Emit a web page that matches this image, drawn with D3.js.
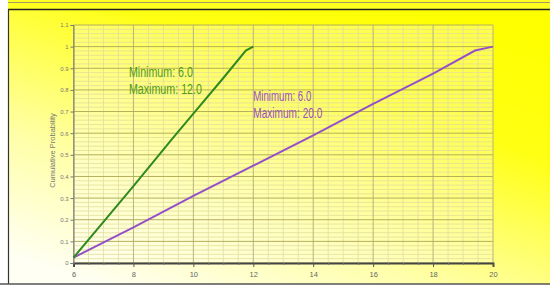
<!DOCTYPE html>
<html>
<head>
<meta charset="utf-8">
<script src="https://cdn.jsdelivr.net/npm/d3@7"></script>
<style>
  body { margin: 0; background: #fff; }
  svg { display: block; }
</style>
</head>
<body>
<div id="chart"></div>
<script>
// data
const xTicks = [6, 8, 10, 12, 14, 16, 18, 20];
const yTicks = [0, 0.1, 0.2, 0.3, 0.4, 0.5, 0.6, 0.7, 0.8, 0.9, 1, 1.1];
const yTickLabels = ["0", "0.1", "0.2", "0.3", "0.4", "0.5", "0.6", "0.7", "0.8", "0.9", "1", "1.1"];

const greenX = [6, 7, 8, 9.3, 10, 11, 11.75, 12];
const greenY = [0.025, 0.19, 0.355, 0.575, 0.69, 0.855, 0.982, 1.0];
const purpleX = [6, 8, 10, 12, 14, 16, 18, 19.4, 20];
const purpleY = [0.025, 0.165, 0.31, 0.45, 0.59, 0.735, 0.875, 0.982, 1.0];

const greenLabel = ["Minimum: 6.0", "Maximum: 12.0"];
const purpleLabel = ["Minimum: 6.0", "Maximum: 20.0"];

const W = 550, H = 286;
const margin = {top: 25, right: 57, bottom: 23, left: 73.5};

const svg = d3.select("#chart").append("svg")
    .attr("width", W).attr("height", H);

const defs = svg.append("defs");
const grad = defs.append("linearGradient")
    .attr("id", "bg").attr("x1", "0.85").attr("y1", "0").attr("x2", "0.15").attr("y2", "1");
grad.append("stop").attr("offset", "0").attr("stop-color", "#ffff00");
grad.append("stop").attr("offset", "0.3").attr("stop-color", "#ffff14");
grad.append("stop").attr("offset", "0.7").attr("stop-color", "#ffffa8");
grad.append("stop").attr("offset", "1").attr("stop-color", "#fffff4");

// top strip
svg.append("rect").attr("x", 8).attr("y", 0).attr("width", W - 8).attr("height", 9).attr("fill", "#ffff20");
svg.append("line").attr("x1", 8).attr("x2", W).attr("y1", 2.5).attr("y2", 2.5)
    .attr("stroke", "#a0a060").attr("stroke-width", 1);

// main panel
svg.append("rect").attr("x", 8).attr("y", 9).attr("width", W - 8).attr("height", 275)
    .attr("fill", "url(#bg)");
svg.append("line").attr("x1", 8).attr("x2", W).attr("y1", 9.5).attr("y2", 9.5)
    .attr("stroke", "#222").attr("stroke-width", 1.5);
svg.append("line").attr("x1", 8.5).attr("x2", 8.5).attr("y1", 9).attr("y2", 284)
    .attr("stroke", "#333").attr("stroke-width", 1.2);
svg.append("line").attr("x1", 0).attr("x2", W).attr("y1", 284).attr("y2", 284)
    .attr("stroke", "#555").attr("stroke-width", 1.5);

const x = d3.scaleLinear().domain([6, 20]).range([margin.left, W - margin.right]);
const y = d3.scaleLinear().domain([0, 1.1]).range([H - margin.bottom, margin.top]);

const g = svg.append("g");

// plot area lighter wash
g.append("rect")
    .attr("x", x(6)).attr("y", y(1.1))
    .attr("width", x(20) - x(6)).attr("height", y(0) - y(1.1))
    .attr("fill", "#fff").attr("opacity", 0.28);

// minor grid
const xMinor = d3.range(6, 20.01, 0.5).filter(v => Math.abs(v % 2) > 0.01);
const yMinor = d3.range(0, 1.101, 0.02).filter(v => Math.abs(Math.round(v * 10) - v * 10) > 0.01);

g.selectAll(".xminor").data(xMinor).enter().append("line")
    .attr("x1", d => x(d)).attr("x2", d => x(d))
    .attr("y1", y(0)).attr("y2", y(1.1))
    .attr("stroke", "#dcd8a4").attr("stroke-width", 0.7);
g.selectAll(".yminor").data(yMinor).enter().append("line")
    .attr("x1", x(6)).attr("x2", x(20))
    .attr("y1", d => y(d)).attr("y2", d => y(d))
    .attr("stroke", "#e2de98").attr("stroke-width", 0.8);

// major grid
g.selectAll(".xmajor").data(xTicks).enter().append("line")
    .attr("x1", d => x(d)).attr("x2", d => x(d))
    .attr("y1", y(0)).attr("y2", y(1.1))
    .attr("stroke", "#b8b47c").attr("stroke-width", 1);
g.selectAll(".ymajor").data(yTicks).enter().append("line")
    .attr("x1", x(6)).attr("x2", x(20))
    .attr("y1", d => y(d)).attr("y2", d => y(d))
    .attr("stroke", "#b4ae5a").attr("stroke-width", 1);

// axes
const xAxis = g.append("g")
    .attr("transform", `translate(0, ${y(0)})`)
    .call(d3.axisBottom(x).tickValues(xTicks).tickSize(4).tickFormat(d3.format("d")));
g.append("g")
    .attr("transform", `translate(0, ${y(0)})`)
    .call(d3.axisBottom(x).tickValues(xMinor).tickSize(2).tickFormat(""))
    .call(a => a.select(".domain").remove())
    .selectAll("line").attr("stroke", "#777");
xAxis.select(".domain").attr("stroke", "#444").attr("stroke-width", 2);
xAxis.selectAll(".tick line").attr("stroke", "#555");
xAxis.selectAll("text").attr("fill", "#666").style("font-size", "7.5px")
    .style("font-family", "Liberation Sans, Arial, sans-serif").attr("dy", "0.95em");

const yAxis = g.append("g")
    .attr("transform", `translate(${x(6)}, 0)`)
    .call(d3.axisLeft(y).tickValues(yTicks).tickSize(3).tickPadding(2)
        .tickFormat((d, i) => yTickLabels[i]));
yAxis.select(".domain").attr("stroke", "#777").attr("stroke-width", 1);
yAxis.selectAll(".tick line").attr("stroke", "#777");
yAxis.selectAll("text").attr("fill", "#777").style("font-size", "6px")
    .style("font-family", "Liberation Sans, Arial, sans-serif");

// axis label
g.append("text")
    .attr("transform", `translate(52, ${y(0.52)}) rotate(-90)`)
    .attr("text-anchor", "middle")
    .attr("dy", "0.35em")
    .attr("fill", "#777")
    .style("font-family", "Liberation Sans, Arial, sans-serif")
    .style("font-size", "7.5px")
    .text("Cumulative Probability");

// lines
const line = d3.line().x(d => x(d[0])).y(d => y(d[1]));
g.append("path")
    .datum(purpleX.map((v, i) => [v, purpleY[i]]))
    .attr("d", line)
    .attr("fill", "none").attr("stroke", "#9550c8").attr("stroke-width", 2);
g.append("path")
    .datum(greenX.map((v, i) => [v, greenY[i]]))
    .attr("d", line)
    .attr("fill", "none").attr("stroke", "#2f8a1e").attr("stroke-width", 2);

// annotations
function annot(lines, x0, y0, color, widths) {
  g.selectAll(null).data(lines).enter().append("text")
      .attr("x", x(x0))
      .attr("y", (d, i) => y(y0) + i * 17)
      .attr("fill", color)
      .style("font-family", "Liberation Sans Narrow, Liberation Sans, Arial, sans-serif")
      .style("font-size", "14px")
      .attr("textLength", (d, i) => widths[i])
      .attr("lengthAdjust", "spacingAndGlyphs")
      .text(d => d);
}
annot(greenLabel, 7.85, 0.86, "#4f9a1c", [64, 73]);
annot(purpleLabel, 12.0, 0.75, "#9a50c0", [58, 69]);
</script>
</body>
</html>
